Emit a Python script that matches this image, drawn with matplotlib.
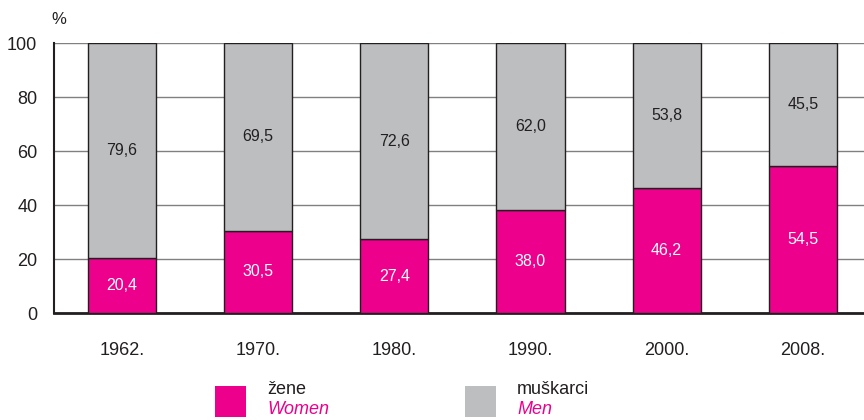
import matplotlib
matplotlib.use("Agg")
import matplotlib.pyplot as plt
from matplotlib.patches import Rectangle
import numpy as np

years = ["1962.", "1970.", "1980.", "1990.", "2000.", "2008."]
women = [20.4, 30.5, 27.4, 38.0, 46.2, 54.5]
men = [79.6, 69.5, 72.6, 62.0, 53.8, 45.5]
yticks = [0, 20, 40, 60, 80, 100]
legend_hr = ["žene", "muškarci"]
legend_en = ["Women", "Men"]

PINK = "#EC008C"
GRAY = "#BCBEC0"
EDGE = "#231F20"
TXT = "#231F20"

plt.rcParams['font.family'] = ['Liberation Sans Narrow', 'Liberation Sans', 'DejaVu Sans']

fig = plt.figure(figsize=(8.64, 4.2), dpi=100)
W, H = 864, 420
ax = fig.add_axes([54 / W, 1 - 313 / H, 1 - 54 / W, (313 - 43) / H])

x = np.arange(len(years))
ax.bar(x, women, width=0.5, color=PINK, edgecolor=EDGE, linewidth=1.0, zorder=3)
ax.bar(x, men, width=0.5, bottom=women, color=GRAY, edgecolor=EDGE, linewidth=1.0, zorder=3)

def fmt(v):
    return f"{v:.1f}".replace(".", ",")

for xi, w, m in zip(x, women, men):
    ax.text(xi, w / 2, fmt(w), ha="center", va="center", color="white", fontsize=11.5, zorder=4)
    ax.text(xi, w + m / 2, fmt(m), ha="center", va="center", color=TXT, fontsize=11.5, zorder=4)

ax.set_xlim(-0.5, 5.45)
ax.set_ylim(0, 100)
ax.set_yticks(yticks)
ax.set_yticklabels([str(t) for t in yticks], fontsize=13, color=TXT)
ax.set_xticks(x)
ax.set_xticklabels(years, fontsize=13, color=TXT)
ax.tick_params(axis="both", length=0)
ax.tick_params(axis="x", pad=21)
ax.tick_params(axis="y", pad=12)
ax.yaxis.grid(True, color="#808080", linewidth=1.0, zorder=0)
ax.set_axisbelow(True)
for s in ["top", "right"]:
    ax.spines[s].set_visible(False)
ax.spines["left"].set_color(EDGE)
ax.spines["left"].set_linewidth(1.5)
ax.spines["bottom"].set_color(EDGE)
ax.spines["bottom"].set_linewidth(2.0)

fig.text(59 / W, 1 - 20 / H, "%", fontsize=12, color=TXT, ha="center", va="center")

# legend
for (x0, col, hr, en) in [(215, PINK, legend_hr[0], legend_en[0]), (465, GRAY, legend_hr[1], legend_en[1])]:
    fig.patches.append(Rectangle((x0 / W, 1 - 417 / H), 31 / W, 31 / H, transform=fig.transFigure,
                                 facecolor=col, edgecolor="none"))
    fig.text((x0 + 52) / W, 1 - 389 / H, hr, fontsize=13, color=TXT, ha="left", va="center")
    fig.text((x0 + 52) / W, 1 - 410 / H, en, fontsize=13, color=PINK, style="italic", ha="left", va="center")

fig.savefig("out.png", dpi=100)
